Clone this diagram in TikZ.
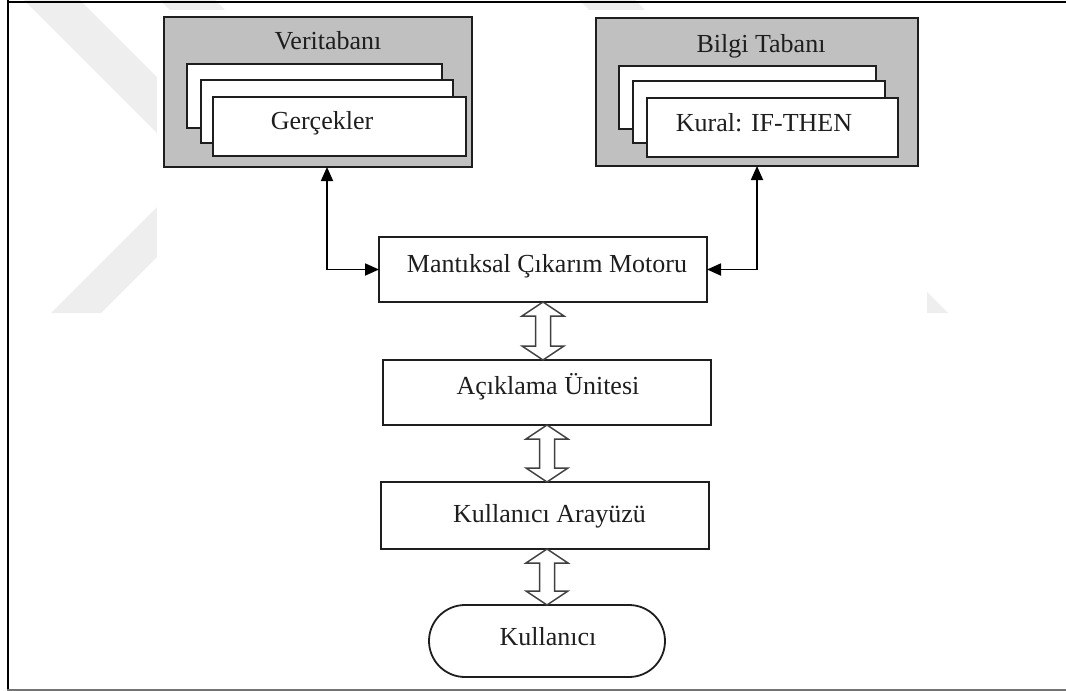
\documentclass[tikz,border=0pt]{standalone}
\usepackage{fontspec}
\setmainfont{Liberation Serif}
\usetikzlibrary{arrows.meta,calc}
\definecolor{panelgray}{RGB}{192,192,192}
\definecolor{inkdark}{RGB}{30,30,30}
\definecolor{markgray}{RGB}{238,238,238}

% hollow two-headed block arrow between two points on a vertical line
\newcommand\biarrow[2]{%
  \draw[hollow] (#1) -- ++(21,14) -- ++(-13.5,0) -- ($(#2)+(7.5,-14)$)
    -- ++(13.5,0) -- (#2) -- ++(-21,-14) -- ++(13.5,0)
    -- ($(#1)+(-7.5,14)$) -- ++(-13.5,0) -- cycle;}

\begin{document}
\begin{tikzpicture}[x=1pt,y=-1pt,
  txt/.style={inner sep=0pt, text height=18pt, text depth=5pt,
    font=\fontsize{26}{30}\selectfont, text=inkdark},
  panel/.style={draw=inkdark, line width=1.8pt, fill=panelgray,
    inner sep=0pt, outer sep=0pt},
  sheet/.style={draw=inkdark, line width=1.8pt, fill=white,
    inner sep=0pt, outer sep=0pt},
  stepbox/.style={draw=inkdark, line width=1.8pt, fill=white,
    inner sep=0pt, outer sep=0pt},
  userbox/.style={stepbox, rounded corners=36pt},
  link/.style={draw=black, line width=1.8pt,
    {Triangle[length=14pt,width=12pt]}-{Triangle[length=14pt,width=12pt]}},
  hollow/.style={draw=black!75, line width=1.5pt, fill=white, line join=miter}
]
\useasboundingbox (0,0) rectangle (1066,691);

% faint background chevrons
\fill[markgray] (24,0) -- (80,0) -- (247,167) -- (101,313) -- (51,313)
  -- (194,170) -- cycle;
\fill[markgray] (579,0) -- (635,0) -- (948,313) -- (892,313) -- cycle;
\fill[markgray] (160,0) -- (215,0) -- (225,10) -- (170,10) -- cycle;
\fill[white] (157,10) rectangle (927,691);

% page frame
\draw[black, line width=2pt] (7.5,0) -- (7.5,691);
\draw[black, line width=2pt] (7,1.5) -- (1066,1.5);
\draw[black!55, line width=2pt] (7,689.5) -- (1066,689.5);

% database panel
\node[panel, minimum width=308pt, minimum height=150pt] (verit) at (318,92) {};
\node[sheet, minimum width=255pt, minimum height=64pt] (vs1) at (314.5,96) {};
\node[sheet, minimum width=252pt, minimum height=63pt] (vs2) at (327,111.5) {};
\node[sheet, minimum width=253pt, minimum height=59pt] (vs3) at (339.5,126.5) {};
\node[txt] (vtitle) at (328,42.5) {Veritabanı};
\node[txt] (vfacts) at (322,122.5) {Gerçekler};

% knowledge base panel
\node[panel, minimum width=322pt, minimum height=148pt] (bilgi) at (757,92) {};
\node[sheet, minimum width=257pt, minimum height=63pt] (bs1) at (747.5,97.5) {};
\node[sheet, minimum width=252pt, minimum height=62pt] (bs2) at (759,112) {};
\node[sheet, minimum width=251pt, minimum height=59pt] (bs3) at (772.5,127.5) {};
\node[txt] (btitle) at (761,45.5) {Bilgi Tabanı};
\node[txt] (brule) at (764,124.5) {Kural: IF-THEN};

% processing chain
\node[stepbox, minimum width=328pt, minimum height=65pt] (motor) at (543,269.5) {};
\node[txt] (tmotor) at (547,265.5) {Mantıksal Çıkarım Motoru};
\node[stepbox, minimum width=328pt, minimum height=65pt] (aciklama) at (547,392.5) {};
\node[txt] (tacik) at (548,387.5) {Açıklama Ünitesi};
\node[stepbox, minimum width=328pt, minimum height=67pt] (arayuz) at (545,515.5) {};
\node[txt] (taray) at (549.5,515.5) {Kullanıcı Arayüzü};
\node[userbox, minimum width=236pt, minimum height=72pt] (kullanici) at (547,641) {};
\node[txt] (tkull) at (548,638.5) {Kullanıcı};

% connectors to the two panels
\draw[link] ([xshift=9pt]verit.south) |- (motor.west);
\draw[link] (bilgi.south) |- (motor.east);

% block arrows along the chain
\coordinate (p1) at (motor.south);
\coordinate (p2) at (motor.south |- aciklama.north);
\coordinate (p3) at (aciklama.south);
\coordinate (p4) at (aciklama.south |- arayuz.north);
\coordinate (p5) at (kullanici.north |- arayuz.south);
\coordinate (p6) at (kullanici.north);
\biarrow{p1}{p2}
\biarrow{p3}{p4}
\biarrow{p5}{p6}
\end{tikzpicture}
\end{document}
